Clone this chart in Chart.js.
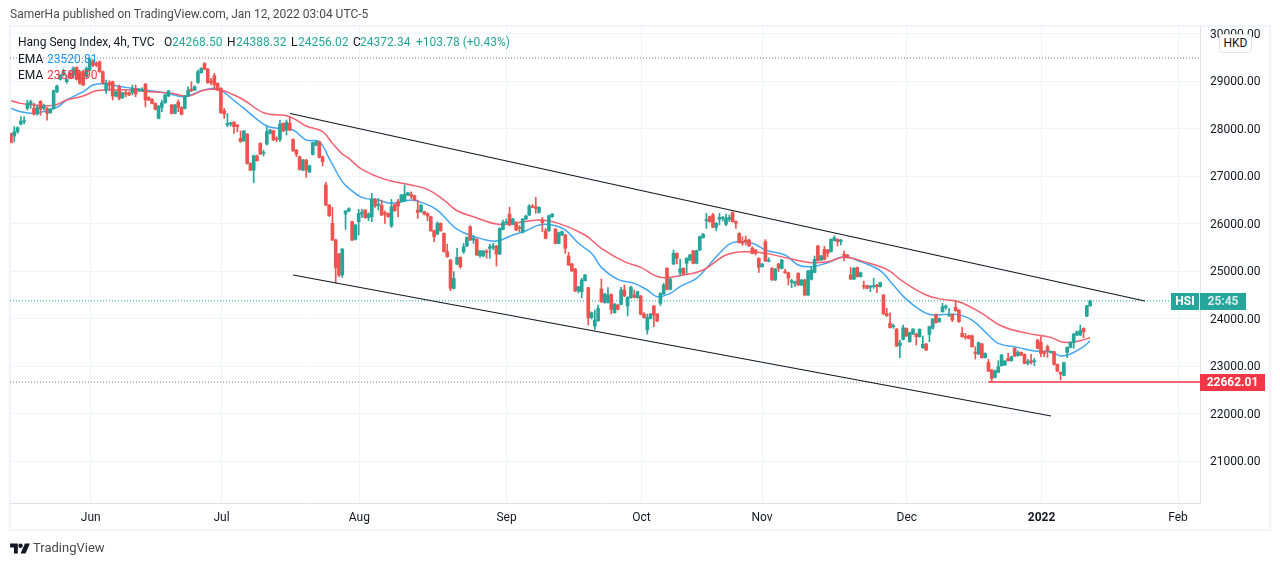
<!DOCTYPE html>
<html>
<head>
<meta charset="utf-8">
<title>Hang Seng Index</title>
<script src="https://cdn.jsdelivr.net/npm/chart.js@4"></script>
<style>
  html, body { margin: 0; padding: 0; background: #fff; }
  body { width: 1280px; height: 566px; overflow: hidden; position: relative; font-family: Roboto, sans-serif; font-size: 12px; color: #131722; }
  canvas { position: absolute; left: 0; top: 0; }
  #frame { position: absolute; left: 9px; top: 25px; width: 1258px; height: 502px; border: 2px solid #f0f3fa; }
  .t { position: absolute; white-space: nowrap; line-height: 16px; }
  .up { color: #26a69a; }
  #hkd { position: absolute; left: 1219px; top: 34px; width: 31px; height: 17px; line-height: 17px; text-align: center; background: #fff; border: 1px solid #e0e3eb; border-radius: 4px; }
</style>
</head>
<body>
<div id="frame"></div>
<canvas id="hsiChart" width="1280" height="566"></canvas>

<div class="t" style="left:10px;top:6px;color:#4a4a4a">SamerHa published on TradingView.com, Jan 12, 2022 03:04 UTC-5</div>
<div class="t" style="left:18px;top:34px">Hang Seng Index, 4h, TVC</div>
<div class="t" style="left:164px;top:34px">O</div><div class="t up" style="left:172px;top:34px">24268.50</div>
<div class="t" style="left:227px;top:34px">H</div><div class="t up" style="left:236px;top:34px">24388.32</div>
<div class="t" style="left:291px;top:34px">L</div><div class="t up" style="left:298px;top:34px">24256.02</div>
<div class="t" style="left:353px;top:34px">C</div><div class="t up" style="left:360px;top:34px">24372.34</div>
<div class="t up" style="left:416px;top:34px">+103.78 (+0.43%)</div>
<div class="t" style="left:18px;top:51px">EMA</div><div class="t" style="left:47px;top:51px;color:#2196f3">23520.81</div>
<div class="t" style="left:18px;top:67px">EMA</div><div class="t" style="left:47px;top:67px;color:#f23645">23585.90</div>
<div id="hkd">HKD</div>

<svg style="position:absolute;left:10px;top:543px" width="20" height="11" viewBox="0 0 36 20">
  <path d="M0 1h14v18H7V8H0z" fill="#131722"/>
  <circle cx="19" cy="5" r="4" fill="#131722"/>
  <path d="M27 1h9l-8 18h-9z" fill="#131722"/>
</svg>
<div class="t" style="left:33px;top:540px;font-size:13px;color:#4a4a4a">TradingView</div>

<script>
// 4h candles, one entry per bar
const opens = [
  27900,27841,27932,28094,28143,28424,28515,28424,28304,28571,
  28424,28417,28332,28424,28775,29034,29125,28985,29161,29125,
  29287,29196,29196,29090,29231,29406,29371,29406,29196,28810,
  28964,28985,28683,28880,28648,28754,28754,28754,28845,28796,
  28796,28936,28655,28613,28529,28213,28445,28543,28683,28494,
  28318,28557,28445,28424,28683,28831,28810,28971,29175,29364,
  29252,29000,29112,28950,28845,28375,28073,28094,28136,28073,
  27792,27743,27883,27265,27125,27420,27687,27476,27673,27897,
  27953,27792,27771,28108,27967,28108,27771,27546,27406,27125,
  27336,27083,27455,27651,27722,27406,
  26810,26389,26003,25652,25357,24915,26199,26262,26038,25666,
  26038,26199,26283,26122,26143,26508,26382,26382,26227,26213,
  25946,26396,26459,26459,26473,26599,26613,26585,26283,26248,
  26248,26213,26143,25848,25778,26003,25792,25406,25230,24634,
  25146,25286,25406,25525,25932,25652,25666,25322,25315,25420,
  25476,25497,25525,25357,25876,26017,26199,25981,26003,25911,
  25813,26094,26178,26368,26354,26234,26073,25848,25848,26143,
  25883,25581,
  25758,25758,25316,25148,25042,24579,24565,24797,24649,24017,
  23842,23954,24621,24333,24340,24509,24123,24284,24298,24600,
  24263,24439,24495,24439,24474,24095,23758,24003,24263,24095,
  24319,24516,25056,24614,25148,25372,24972,25056,25162,25232,
  25421,25162,25442,25702,26060,26144,26180,25920,26088,26109,
  25983,26088,26229,26039,25793,25618,25653,25653,25478,25442,
  25267,25091,25618,25204,25056,24811,25148,25056,24986,24965,
  24761,24740,24951,24705,24811,24495,24825,24972,25527,25232,
  25456,25442,25407,25639,25667,25618,25351,25337,24916,24831,
  25070,24881,24691,24691,24656,24670,24705,24670,24494,24108,
  23898,23828,23778,23427,23561,23792,23512,23673,23673,23617,
  23385,23463,23666,23792,24087,23933,24143,24235,24059,24087,
  24235,24179,23687,23617,23638,23638,23294,23252,23463,23175,
  23076,22915,22760,22866,23006,23020,23161,23112,23371,23217,
  23287,23245,23055,23112,23090,23547,23498,23301,23406,23287,
  23301,23034,22866,22803,23287,23392,23491,23652,23652,23792,
  24052,24268
];
const highs = [
  27900,28038,28038,28248,28248,28599,28599,28529,28494,28585,
  28515,28445,28420,28810,28915,29140,29250,29125,29200,29301,
  29300,29210,29230,29300,29480,29450,29406,29420,29210,29020,
  29006,29000,28790,28915,28770,28810,28770,28915,28915,28840,
  28860,28950,28670,28630,28540,28485,28599,28720,28805,28510,
  28510,28599,28460,28696,28880,28985,28900,29231,29280,29390,
  29265,29055,29161,28965,28860,28424,28318,28135,28143,28085,
  27950,27960,27895,27280,27441,27440,27700,27546,28038,27985,
  27965,27827,28178,28120,28178,28234,27785,27560,27420,27350,
  27350,27230,27715,27735,27735,27420,
  26866,26400,26340,25670,25370,25475,26275,26333,26050,25982,
  26297,26297,26295,26227,26634,26530,26529,26494,26269,26225,
  26508,26410,26508,26612,26810,26660,26669,26600,26494,26400,
  26260,26225,26155,25860,26038,26015,25805,25567,25245,24985,
  25476,25300,25581,25720,25953,25757,25680,25435,25435,25450,
  25567,25581,25537,25910,26073,26095,26340,26110,26038,25960,
  26106,26178,26400,26400,26550,26352,26129,25897,26178,26210,
  25895,25820,
  25840,25770,25393,25160,25055,24680,24846,24930,24660,24140,
  24179,24284,24832,24530,24649,24520,24320,24295,24656,24705,
  24460,24684,24600,24578,24485,24123,24095,24110,24275,24105,
  24545,24740,25070,24845,25442,25385,25246,25070,25280,25350,
  25435,25440,25735,25790,26215,26155,26215,26020,26215,26150,
  26201,26180,26245,26055,25805,25723,25737,25665,25513,25455,
  25280,25160,25660,25280,25070,25055,25162,25245,25035,24975,
  24825,24790,24965,24825,24825,25015,25091,25316,25540,25330,
  25520,25455,25680,25740,25680,25665,25421,25350,25077,25070,
  25085,24978,24789,24705,24696,24845,24717,24767,24505,24214,
  24122,23884,23790,23547,23863,23805,23715,23790,23685,23785,
  23631,23475,23840,24000,24100,24015,24319,24284,24214,24100,
  24375,24190,23814,23687,23650,23650,23406,23505,23475,23280,
  23140,22930,22915,23112,23245,23115,23266,23208,23385,23322,
  23300,23258,23140,23245,23161,23560,23617,23315,23441,23320,
  23315,23045,22880,23085,23405,23510,23685,23735,23863,23805,
  24275,24388
];
const lows = [
  27700,27722,27897,28073,28094,28389,28424,28283,28283,28283,
  28389,28178,28320,28410,28754,29020,29100,28950,29050,29055,
  29020,28930,28900,29050,29210,29300,29301,29180,28930,28740,
  28810,28600,28670,28600,28630,28670,28690,28705,28670,28780,
  28780,28459,28590,28515,28390,28200,28354,28530,28670,28305,
  28305,28354,28285,28410,28670,28775,28800,28950,29160,29235,
  28950,28915,28845,28800,28320,28213,28038,28050,27897,27932,
  27710,27730,27250,27110,26858,27310,27450,27420,27652,27885,
  27745,27722,27722,27935,27862,27955,27520,27406,27125,27110,
  26970,27070,27440,27640,27380,27210,
  26375,26150,25640,24753,24880,24865,25876,26250,25640,25650,
  25757,26130,26110,26060,26038,26340,26283,26165,26003,26130,
  25918,26255,26143,26445,26460,26585,26529,26480,26108,26235,
  26180,26059,25835,25616,25765,25835,25395,25290,24585,24620,
  25135,25055,25371,25510,25640,25581,25325,25287,25300,25270,
  25266,25450,25104,25345,25865,26000,25955,25970,25850,25827,
  25800,26080,26165,26330,26213,26220,25827,25675,25835,26130,
  25570,25570,
  25745,25372,25115,24990,24565,24540,24438,24785,23863,23990,
  23772,23940,24340,24320,24325,24095,24110,24180,24285,24460,
  24052,24425,24435,24425,24075,24005,23673,23990,23828,23935,
  24275,24505,24600,24600,25135,25150,24895,24925,24951,25220,
  25150,25150,25430,25690,25899,26025,25910,25850,25969,26050,
  25955,26040,26025,25899,25585,25540,25548,25515,25360,25337,
  24972,25080,25200,25190,24800,24800,24986,25045,24950,24705,
  24649,24670,24695,24695,24474,24480,24810,24960,25205,25220,
  25235,25300,25395,25630,25527,25547,25218,25275,24820,24820,
  24870,24870,24621,24625,24565,24635,24544,24660,24085,24045,
  23795,23792,23410,23175,23550,23620,23500,23660,23441,23605,
  23370,23325,23512,23780,23900,23920,24130,24193,24045,23933,
  24150,23920,23605,23561,23570,23395,23147,23240,23165,23165,
  22880,22662,22750,22855,22995,23010,23100,23100,23200,23205,
  23220,23045,23020,23041,23006,23360,23196,23196,23182,23270,
  23020,22880,22704,22790,23175,23380,23371,23640,23640,23596,
  24040,24256
];
const closes = [
  27700,27932,28017,28157,28164,28529,28564,28304,28445,28403,
  28473,28318,28410,28796,28894,29125,29196,29034,29076,29266,
  29034,28950,28915,29266,29456,29336,29336,29196,28950,28950,
  28915,28683,28775,28634,28754,28726,28705,28845,28726,28824,
  28824,28600,28600,28529,28403,28473,28543,28705,28789,28318,
  28494,28445,28297,28683,28810,28796,28880,29196,29266,29245,
  28964,28964,28915,28810,28332,28304,28108,28122,28038,28038,
  27722,27946,27265,27125,27427,27322,27462,27497,27932,27967,
  27757,27771,28094,27946,28129,27967,27532,27462,27139,27336,
  27125,27216,27701,27722,27392,27301,
  26389,26164,25652,25069,24915,25462,26262,26311,25652,25967,
  26213,26241,26122,26199,26515,26368,26410,26178,26199,26143,
  26354,26269,26368,26599,26620,26648,26578,26494,26234,26389,
  26199,26157,25848,25722,26003,25848,25406,25301,24634,24844,
  25286,25090,25511,25708,25652,25694,25336,25420,25420,25392,
  25511,25525,25357,25897,26024,26038,25967,26094,25862,25897,
  26094,26157,26368,26340,26318,26340,26017,25687,26164,26199,
  25581,25806,
  25828,25478,25126,25000,24579,24670,24811,24916,24017,24123,
  23968,24214,24354,24516,24495,24193,24305,24193,24600,24474,
  24445,24656,24446,24565,24088,24017,24024,24095,24074,23947,
  24530,24705,24614,24832,25372,25267,25042,24937,25267,25337,
  25162,25428,25723,25779,26074,26039,25920,26004,26130,26123,
  26109,26130,26039,26004,25597,25583,25618,25527,25372,25372,
  25077,25148,25211,25232,24811,25042,25056,25232,24965,24846,
  24797,24775,24705,24811,24495,25000,25021,25246,25218,25316,
  25246,25372,25667,25702,25618,25653,25316,25288,24831,25056,
  24881,24965,24670,24635,24684,24691,24670,24754,24094,24059,
  23807,23849,23420,23491,23806,23631,23701,23778,23617,23771,
  23455,23336,23828,23989,23912,24003,24249,24263,24087,23968,
  24165,23933,23617,23603,23582,23406,23266,23491,23175,23266,
  22894,22740,22901,22985,23231,23104,23112,23196,23210,23287,
  23231,23055,23090,23076,23112,23371,23266,23266,23322,23301,
  23034,22894,22831,23069,23392,23498,23673,23722,23743,23722,
  24263,24372
];

// EMA lines, [bar, value] read at the bends
const emaFast = [
  [0,28424],[3,28353],[7,28318],[11,28375],[14,28445],[17,28600],[22,28775],[25,28915],[28,28950],[31,28915],
  [35,28866],[41,28810],[47,28754],[53,28670],[58,28796],[62,28845],[64,28810],[68,28590],[71,28424],[74,28250],
  [78,28052],[82,28003],[86,27968],[90,27758],[94,27722],[97,27371],[101,26880],[103,26740],[107,26550],[112,26494],
  [116,26424],[122,26494],[126,26424],[130,26283],[135,25932],[138,25806],[143,25687],[148,25630],[153,25757],[157,25848],
  [161,25969],[165,25969],[169,25864],[173,25583],[177,25372],[180,25077],[185,24825],[190,24740],[194,24600],[197,24460],
  [201,24530],[204,24670],[209,24846],[212,25056],[216,25372],[220,25597],[226,25583],[230,25442],[236,25337],[240,25126],
  [244,25091],[249,25175],[254,25302],[259,25197],[265,25007],[269,24705],[273,24403],[278,24143],[281,24073],[288,24087],
  [293,23968],[298,23652],[301,23477],[307,23392],[312,23315],[317,23301],[320,23210],[323,23252],[327,23406],[329,23533]
];
const emaSlow = [
  [0,28585],[3,28529],[7,28494],[13,28487],[17,28600],[22,28683],[26,28796],[30,28810],[37,28810],[42,28775],
  [49,28740],[54,28683],[59,28810],[64,28810],[68,28705],[71,28600],[77,28333],[85,28249],[90,28052],[95,27933],
  [98,27687],[101,27463],[103,27372],[107,27140],[114,26929],[122,26810],[127,26719],[132,26494],[136,26269],[141,26143],
  [148,25988],[153,26003],[161,26073],[167,26003],[175,25758],[180,25478],[187,25197],[192,25077],[198,24867],[205,24916],
  [211,25021],[218,25337],[224,25407],[230,25372],[237,25267],[244,25176],[249,25197],[254,25288],[260,25197],[267,25035],
  [272,24775],[279,24495],[284,24403],[289,24354],[296,24108],[302,23842],[310,23687],[317,23603],[321,23498],[326,23533],
  [329,23596]
];

// Drawn channel, [bar, price] at both ends
const channelTop = [[85.1,28316],[345.7,24369]];
const channelBottom = [[86,24916],[317.1,21948]];

// Horizontal levels
const lastPrice = 24372.34;
const supportPrice = 22662.01;
const priorPrice = 29484;
const lastBar = 362.5;
const supportStart = 297.9;

// Axis ticks
const priceTicks = [21000,22000,23000,24000,25000,26000,27000,28000,29000,30000];
const monthBars = [24.3,64.2,106.2,151.1,192.2,229,273.1,314.2,355.8];
const monthLabels = ["Jun","Jul","Aug","Sep","Oct","Nov","Dec","2022","Feb"];

const UP = "#26a69a";
const DOWN = "#ef5350";
const FONT = "Roboto, sans-serif";

const candleColors = opens.map((o, i) => closes[i] >= o ? UP : DOWN);
const toXY = arr => arr.map(p => ({ x: p[0], y: p[1] }));

function lineSet(points, color, width, order, dash, tension) {
    return {
        type: "line",
        data: toXY(points),
        borderColor: color,
        borderWidth: width,
        borderDash: dash || [],
        tension: tension || 0,
        pointRadius: 0,
        order: order
    };
}

// Price tags that sit on the right axis
const tagsPlugin = {
    id: "tags",
    afterDraw(chart) {
        const c = chart.ctx;
        const y = chart.scales.y;
        const tag = (left, width, price, color, text, textColor, bold) => {
            const mid = Math.round(y.getPixelForValue(price));
            c.fillStyle = color;
            c.fillRect(left, mid - 8, width, 17);
            c.fillStyle = textColor;
            c.font = (bold ? "bold " : "") + "12px " + FONT;
            c.textAlign = "center";
            c.textBaseline = "middle";
            c.fillText(text, left + width / 2, mid + 1);
        };
        tag(1171, 28, lastPrice, UP, "HSI", "#ffffff", true);
        tag(1200, 46, lastPrice, UP, "25:45", "#d3eeeb", true);
        tag(1200, 65, supportPrice, "#f23645", "22662.01", "#ffffff", true);
    }
};

new Chart(document.getElementById("hsiChart"), {
    type: "bar",
    plugins: [tagsPlugin],
    data: {
        datasets: [
            lineSet(channelTop, "#131722", 1.2, 0),
            lineSet(channelBottom, "#131722", 1.2, 0),
            // candle bodies
            {
                data: opens.map((o, i) => ({ x: i, y: [o, closes[i]] })),
                backgroundColor: candleColors,
                barThickness: 3,
                minBarLength: 1,
                order: 1
            },
            // candle wicks
            {
                data: opens.map((o, i) => ({ x: i, y: [lows[i], highs[i]] })),
                backgroundColor: candleColors,
                barThickness: 1,
                order: 2
            },
            lineSet(emaSlow, "#f4606f", 1.5, 3, null, 0.4),
            lineSet(emaFast, "#42a5f5", 1.5, 4, null, 0.4),
            lineSet([[-0.3, supportPrice], [supportStart, supportPrice]], "#787b86", 1, 5, [1, 2]),
            lineSet([[supportStart, supportPrice], [lastBar, supportPrice]], "#f23645", 1.5, 5),
            lineSet([[-0.3, lastPrice], [353.5, lastPrice]], UP, 1, 5, [1, 2]),
            lineSet([[-0.3, priorPrice], [lastBar, priorPrice]], "#787b86", 1, 5, [1, 2])
        ]
    },
    options: {
        responsive: false,
        animation: false,
        layout: { padding: { left: 10, right: 10, top: 26, bottom: 37 } },
        plugins: { legend: { display: false }, tooltip: { enabled: false } },
        datasets: { bar: { grouped: false } },
        scales: {
            x: {
                type: "linear",
                offset: false,
                min: -0.3,
                max: lastBar,
                grid: { color: "#f0f3fa", offset: false, drawTicks: false },
                border: { color: "#e0e3eb" },
                afterBuildTicks: axis => { axis.ticks = monthBars.map(v => ({ value: v })); },
                afterFit: axis => { axis.height = 26; },
                ticks: {
                    autoSkip: false,
                    maxRotation: 0,
                    padding: 8,
                    color: "#131722",
                    font: ctx => ({
                        family: FONT,
                        size: 12,
                        weight: ctx.tick && ctx.tick.value === 314.2 ? "bold" : "normal"
                    }),
                    callback: (v, i) => monthLabels[i]
                }
            },
            y: {
                position: "right",
                min: 20116,
                max: 30158,
                beginAtZero: false,
                grid: { color: "#f0f3fa", drawTicks: false },
                border: { color: "#e0e3eb" },
                afterBuildTicks: axis => { axis.ticks = priceTicks.map(v => ({ value: v })); },
                afterFit: axis => { axis.width = 70; },
                ticks: {
                    padding: 10,
                    labelOffset: 1,
                    color: "#131722",
                    font: { family: FONT, size: 12 },
                    callback: v => v.toFixed(2)
                }
            }
        }
    }
});
</script>
</body>
</html>
